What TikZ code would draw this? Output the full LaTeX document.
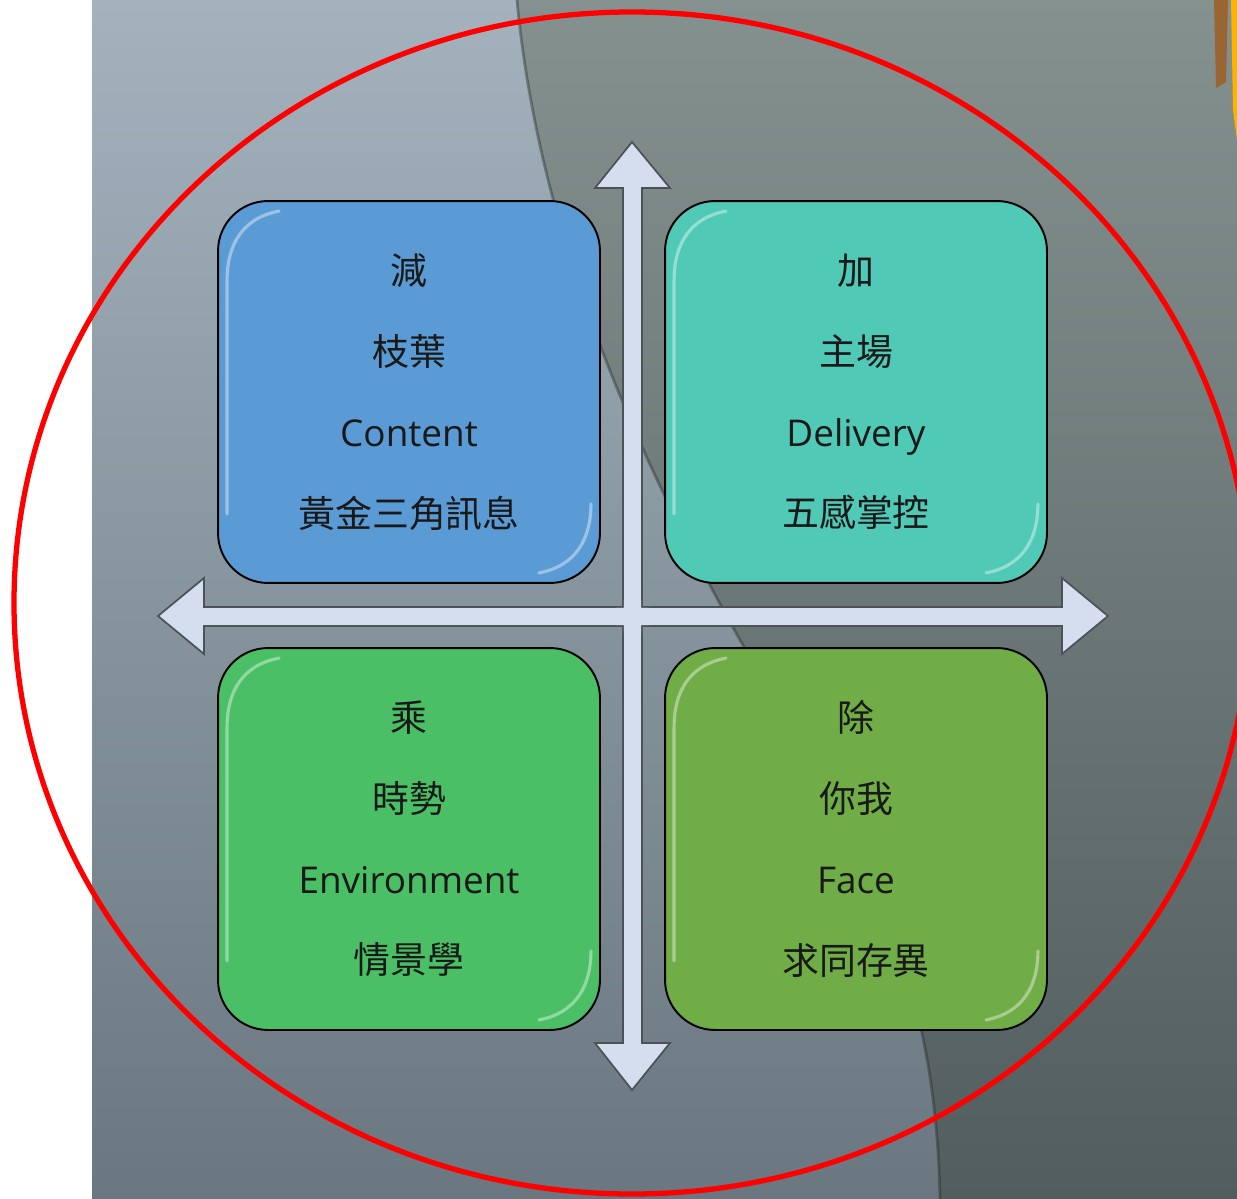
\documentclass[tikz,border=0pt]{standalone}
\usepackage{fontspec}
\setmainfont{Open Sans}
\newfontfamily\cjk{Noto Sans CJK TC}
\definecolor{bgtop}{HTML}{A3B2BC}
\definecolor{bgbot}{HTML}{6A7781}
\definecolor{platetop}{HTML}{85918F}
\definecolor{platebot}{HTML}{525E5E}
\definecolor{axisfill}{HTML}{D5DEEF}
\definecolor{axisline}{HTML}{4D5257}
\definecolor{jianblue}{HTML}{5B9BD5}
\definecolor{jiateal}{HTML}{50C9B6}
\definecolor{chenggreen}{HTML}{4ABF65}
\definecolor{chuolive}{HTML}{70AD47}
\tikzset{
  quad/.style={draw=black, line width=1.1pt, rounded corners=1cm,
    minimum width=7.64cm, minimum height=7.64cm, inner sep=0pt,
    align=center, text=black!90, font=\fontsize{21}{46}\selectfont},
  gloss/.style={white, opacity=.4, line width=1.8pt, line cap=round},
  axisshape/.style={fill=axisfill, draw=axisline, line width=1pt, line join=miter}
}
\begin{document}
\begin{tikzpicture}[x=0.02cm,y=-0.02cm]
    \useasboundingbox (0,0) rectangle (1237,1199);
    \fill[white] (0,0) rectangle (1237,1199);
    \shade[top color=bgtop, bottom color=bgbot] (92,0) rectangle (1237,1199);
    \shade[top color=platetop, bottom color=platebot] (517,0) .. controls (540,250) and (650,480) .. (740,640) .. controls (850,830) and (935,950) .. (940,1199) -- (1237,1199) -- (1237,0) -- cycle;
    \draw[black!70!gray, opacity=.4, line width=1.6pt] (517,0) .. controls (540,250) and (650,480) .. (740,640) .. controls (850,830) and (935,950) .. (940,1199);
    \fill[brown!80!black] (1214,0) -- (1228,0) -- (1226,82) -- (1216,88) -- cycle;
    \fill[orange!60!yellow] (1231,0) -- (1237,0) -- (1237,140) -- (1233,110) -- cycle;

    \coordinate (top) at (632,142);
    \coordinate (bottom) at (632,1090);
    \coordinate (left) at (158,616);
    \coordinate (right) at (1108,616);
    \draw[axisshape] (top) -- (670,188) -- (642,188) -- (642,1043) -- (670,1043) -- (bottom) -- (595,1043) -- (623,1043) -- (623,188) -- (595,188) -- cycle;
    \draw[axisshape] (left) -- (204,578) -- (204,607) -- (1062,607) -- (1062,578) -- (right) -- (1062,654) -- (1062,626) -- (204,626) -- (204,654) -- cycle;
    \fill[axisfill] (623.9,600) rectangle (641.1,633) (616,607.9) rectangle (649,625.1);

    \node[quad, fill=jianblue] at (409,392) (jian) {{\cjk 減}\\{\cjk 枝葉}\\Content\\{\cjk 黃金三角訊息}};
    \node[quad, fill=jiateal] at (856,392) (jia) {{\cjk 加}\\{\cjk 主場}\\Delivery\\{\cjk 五感掌控}};
    \node[quad, fill=chenggreen] at (409,839) (cheng) {{\cjk 乘}\\{\cjk 時勢}\\Environment\\{\cjk 情景學}};
    \node[quad, fill=chuolive] at (856,839) (chu) {{\cjk 除}\\{\cjk 你我}\\Face\\{\cjk 求同存異}};

    \foreach \n in {jian,jia,cheng,chu}{
        \draw[gloss] ([shift={(10,-70)}]\n.south west) -- ([shift={(10,80)}]\n.north west) .. controls ([shift={(10,45)}]\n.north west) and ([shift={(25,18)}]\n.north west) .. ([shift={(62,11)}]\n.north west);
        \draw[gloss] ([shift={(-10,-80)}]\n.south east) .. controls ([shift={(-10,-45)}]\n.south east) and ([shift={(-25,-18)}]\n.south east) .. ([shift={(-62,-11)}]\n.south east);
    }

    \draw[red, line width=3pt] (632,603) ellipse [x radius=618, y radius=591];
\end{tikzpicture}
\end{document}
